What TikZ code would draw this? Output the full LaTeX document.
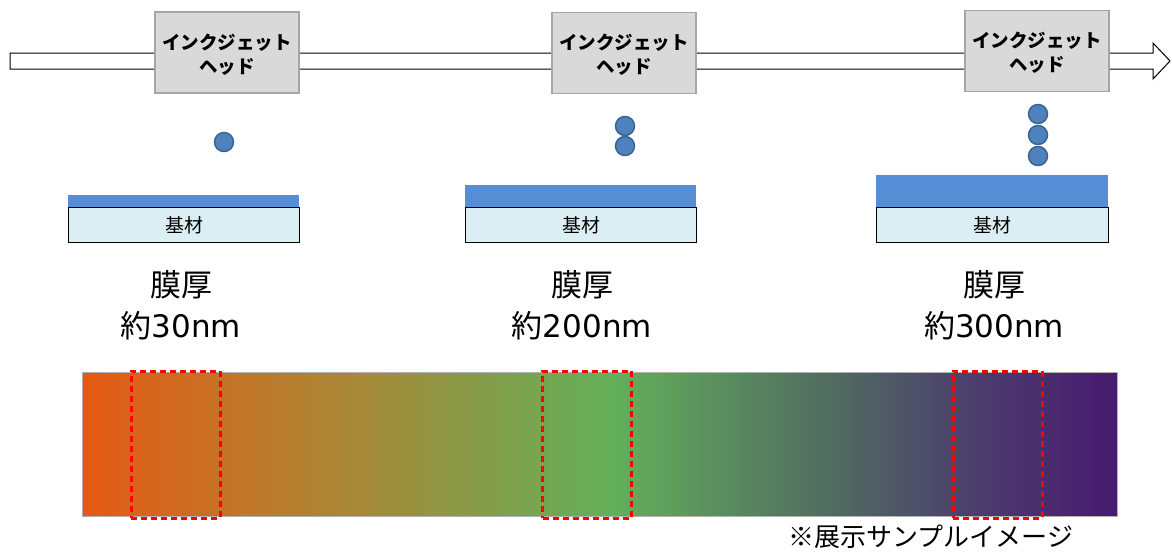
\documentclass[tikz,border=0pt]{standalone}
\usepackage{fontspec}
\newfontfamily\jp{Noto Sans CJK JP}
\newfontfamily\lat{DejaVu Sans}
\definecolor{c0}{HTML}{E65914}
\definecolor{c1}{HTML}{A68A38}
\definecolor{c2}{HTML}{63B05A}
\definecolor{c3}{HTML}{4F6362}
\definecolor{c4}{HTML}{4C3E6D}
\definecolor{c5}{HTML}{471A70}
\pgfdeclarehorizontalshading{barshade}{100bp}{color(0bp)=(c0); color(25bp)=(c0); color(38.5bp)=(c1); color(50.5bp)=(c2); color(62.5bp)=(c3); color(68bp)=(c4); color(75bp)=(c5); color(100bp)=(c5)}
\definecolor{headfill}{HTML}{D9D9D9}
\definecolor{headdraw}{HTML}{A6A6A6}
\definecolor{dropfill}{HTML}{4F81BD}
\definecolor{dropdraw}{HTML}{3A6496}
\definecolor{filmblue}{HTML}{558ED5}
\definecolor{basefill}{HTML}{DAEEF3}
\tikzset{
  headbox/.style={rectangle, draw=headdraw, line width=1.2pt, fill=headfill, minimum width=144pt, minimum height=81pt, inner sep=0pt, align=center, text depth=0pt, font=\jp\bfseries\fontsize{18.5}{28}\selectfont},
  drop/.style={circle, draw=dropdraw, line width=1.5pt, fill=dropfill, minimum size=19pt, inner sep=0pt},
  film/.style={rectangle, fill=filmblue, inner sep=0pt, anchor=south west},
  basebox/.style={rectangle, draw=black, line width=1pt, fill=basefill, minimum width=231pt, minimum height=35pt, inner sep=0pt, anchor=north west, font=\jp\fontsize{19}{22}\selectfont},
  thick label/.style={align=center, font=\jp\fontsize{31}{41}\selectfont, inner sep=0pt},
  samplebox/.style={rectangle, draw=red, line width=3pt, dash pattern=on 6pt off 4pt, minimum width=89pt, minimum height=147pt, inner sep=0pt}
}
\begin{document}
\begin{tikzpicture}[x=1pt,y=-1pt]
\useasboundingbox (0,0) rectangle (1172,552);
% process arrow
\draw[fill=white, line width=1pt] (10,53) -- (1153,53) -- (1153,43) -- (1170,61) -- (1153,79) -- (1153,69) -- (10,69) -- cycle;
% heads
\node[headbox] (h1) at (227,52.5) {\raisebox{-2pt}{\shortstack{インクジェット\\[4pt]ヘッド}}};
\node[headbox] (h2) at (624,53) {\raisebox{-2pt}{\shortstack{インクジェット\\[4pt]ヘッド}}};
\node[headbox] (h3) at (1037,51) {\raisebox{-2pt}{\shortstack{インクジェット\\[4pt]ヘッド}}};
% droplets
\node[drop] (d1) at (224,142) {};
\node[drop] (d2a) at (625,126) {};
\node[drop] (d2b) at (625,146) {};
\node[drop] (d3a) at (1038,114) {};
\node[drop] (d3b) at (1038,135) {};
\node[drop] (d3c) at (1038,156) {};
% substrates with films
\node[film, minimum width=231pt, minimum height=12pt] (f1) at (68,207) {};
\node[basebox] (b1) at (68,207) {基材};
\node[film, minimum width=231pt, minimum height=22pt] (f2) at (465,207) {};
\node[basebox] (b2) at (465,207) {基材};
\node[film, minimum width=232pt, minimum height=32pt] (f3) at (876,207) {};
\node[basebox, minimum width=232pt] (b3) at (876,207) {基材};
% thickness labels
\node[thick label] (t1) at (181,305) {膜厚\\約{\lat 30nm}};
\node[thick label] (t2) at (582,305) {膜厚\\約{\lat 200nm}};
\node[thick label] (t3) at (994,305) {膜厚\\約{\lat 300nm}};
% color bar
\node[rectangle, draw=black!30, line width=1pt, shade, shading=barshade, minimum width=1035pt, minimum height=144pt, inner sep=0pt] (bar) at (599.5,444) {};
\node[samplebox] (s1) at (175.5,444.5) {};
\node[samplebox] (s2) at (587,444.5) {};
\node[samplebox] (s3) at (997.5,444.5) {};
\node[font=\jp\fontsize{26}{30}\selectfont, inner sep=0pt] (note) at (931,537) {※展示サンプルイメージ};
\end{tikzpicture}
\end{document}
